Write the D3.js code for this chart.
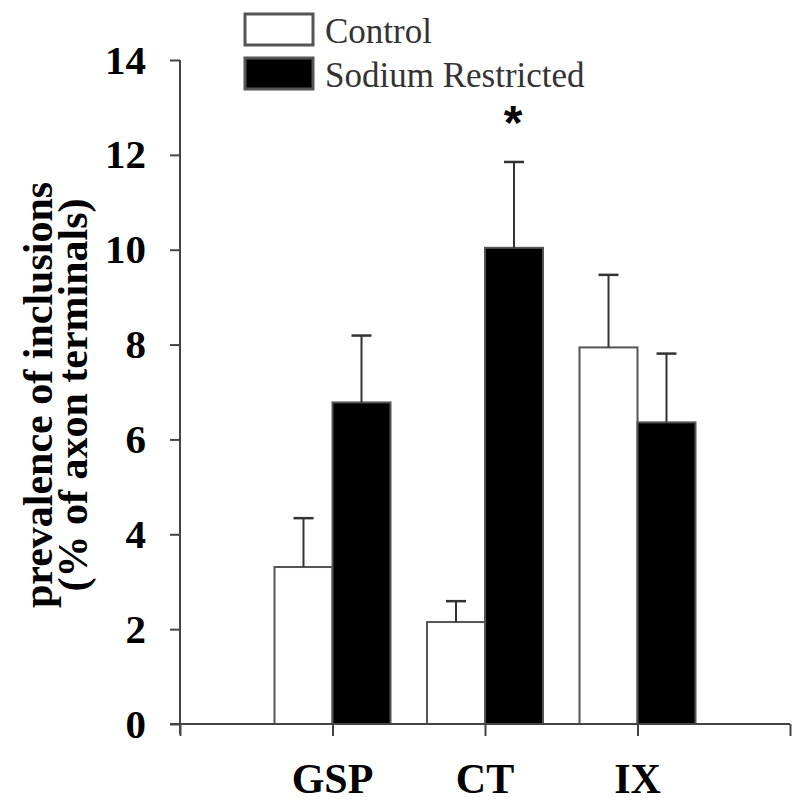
<!DOCTYPE html>
<html>
<head>
<meta charset="utf-8">
<script src="https://cdn.jsdelivr.net/npm/d3@7"></script>
<style>
  html, body { margin: 0; padding: 0; background: #fff; }
  svg { display: block; }
</style>
</head>
<body>
<svg id="chart" width="800" height="804"></svg>
<script>
// ---- data ----
const categories = ["GSP", "CT", "IX"];
const seriesNames = ["Control", "Sodium Restricted"];
const controlMean = [3.31, 2.15, 7.94];
const controlErr  = [1.03, 0.44, 1.53];
const sodiumMean  = [6.78, 10.04, 6.36];
const sodiumErr   = [1.41, 1.81, 1.45];
const yTicks = [0, 2, 4, 6, 8, 10, 12, 14];
const significant = [false, true, false]; // asterisk over sodium bar

// ---- layout ----
const svg = d3.select("#chart");
const serif = "'Liberation Serif', 'Times New Roman', serif";
const axisColor = "#444";
const barStroke = "#555";

const y = d3.scaleLinear().domain([0, 14]).range([724, 60]);
const x = d3.scaleLinear().domain([0, 4]).range([180, 790]);
const barW = 58;

const series = [
  { name: seriesNames[0], mean: controlMean, err: controlErr, fill: "#fff", offset: -1 },
  { name: seriesNames[1], mean: sodiumMean, err: sodiumErr, fill: "#000", offset: 0 }
];

// bars
series.forEach(s => {
  svg.append("g").selectAll("rect")
    .data(categories.map((c, i) => ({ c, i, v: s.mean[i], e: s.err[i] })))
    .join("rect")
    .attr("x", d => x(d.i + 1) + s.offset * barW)
    .attr("y", d => y(d.v))
    .attr("width", barW)
    .attr("height", d => y(0) - y(d.v))
    .attr("fill", s.fill)
    .attr("stroke", barStroke)
    .attr("stroke-width", 2);

  // error bars
  const eg = svg.append("g");
  categories.forEach((c, i) => {
    const cx = x(i + 1) + s.offset * barW + barW / 2;
    eg.append("line")
      .attr("x1", cx).attr("x2", cx)
      .attr("y1", y(s.mean[i])).attr("y2", y(s.mean[i] + s.err[i]))
      .attr("stroke", "#333").attr("stroke-width", 2);
    eg.append("line")
      .attr("x1", cx - 10).attr("x2", cx + 10)
      .attr("y1", y(s.mean[i] + s.err[i])).attr("y2", y(s.mean[i] + s.err[i]))
      .attr("stroke", "#333").attr("stroke-width", 2.5);
  });
});

// asterisk
categories.forEach((c, i) => {
  if (!significant[i]) return;
  const cx = x(i + 1) + barW / 2 - 1;
  svg.append("text")
    .attr("x", cx).attr("y", 139)
    .attr("text-anchor", "middle")
    .attr("font-family", "'Liberation Sans', Arial, sans-serif")
    .attr("font-weight", "bold")
    .attr("font-size", 48)
    .attr("fill", "#000")
    .text("*");
});

// y axis
const yAxis = d3.axisLeft(y).tickValues(yTicks).tickSize(10).tickPadding(24)
  .tickFormat(d3.format("d"));
const gy = svg.append("g").attr("transform", "translate(180,0)").call(yAxis);
gy.select(".domain").remove();
gy.append("line").attr("x1", 0).attr("x2", 0).attr("y1", y(14)).attr("y2", y(0) + 10)
  .attr("stroke", axisColor).attr("stroke-width", 2);
gy.selectAll(".tick line").attr("stroke", axisColor).attr("stroke-width", 2);
gy.selectAll(".tick text")
  .attr("font-family", serif).attr("font-weight", "bold").attr("font-size", 41)
  .attr("fill", "#000");

// x axis
const xAxis = d3.axisBottom(x).tickValues([0, 1, 2, 3, 4]).tickSize(12).tickFormat("");
const gx = svg.append("g").attr("transform", `translate(0,${y(0)})`).call(xAxis);
gx.select(".domain").remove();
gx.append("line").attr("x1", 170).attr("x2", 790).attr("y1", 0).attr("y2", 0)
  .attr("stroke", axisColor).attr("stroke-width", 2);
gx.selectAll(".tick line").attr("stroke", axisColor).attr("stroke-width", 2);

// category labels
svg.append("g").selectAll("text")
  .data(categories)
  .join("text")
  .attr("x", (d, i) => x(i + 1))
  .attr("y", 793)
  .attr("text-anchor", "middle")
  .attr("font-family", serif).attr("font-weight", "bold").attr("font-size", 42)
  .attr("fill", "#000")
  .text(d => d);

// y label
const ylab = svg.append("g").attr("transform", "translate(0,395) rotate(-90)");
ylab.append("text")
  .attr("x", 0).attr("y", 52)
  .attr("text-anchor", "middle")
  .attr("font-family", serif).attr("font-weight", "bold").attr("font-size", 42)
  .attr("fill", "#000")
  .text("prevalence of inclusions");
ylab.append("text")
  .attr("x", 0).attr("y", 87)
  .attr("text-anchor", "middle")
  .attr("font-family", serif).attr("font-weight", "bold").attr("font-size", 42)
  .attr("fill", "#000")
  .text("(% of axon terminals)");

// legend
const leg = svg.append("g");
series.forEach((s, i) => {
  const ly = 14 + i * 44;
  leg.append("rect")
    .attr("x", 245).attr("y", ly)
    .attr("width", 68).attr("height", 31)
    .attr("fill", s.fill)
    .attr("stroke", barStroke).attr("stroke-width", 3);
  leg.append("text")
    .attr("x", 325).attr("y", ly + 29)
    .attr("font-family", serif).attr("font-size", 35)
    .attr("fill", "#333")
    .text(s.name);
});
</script>
</body>
</html>
